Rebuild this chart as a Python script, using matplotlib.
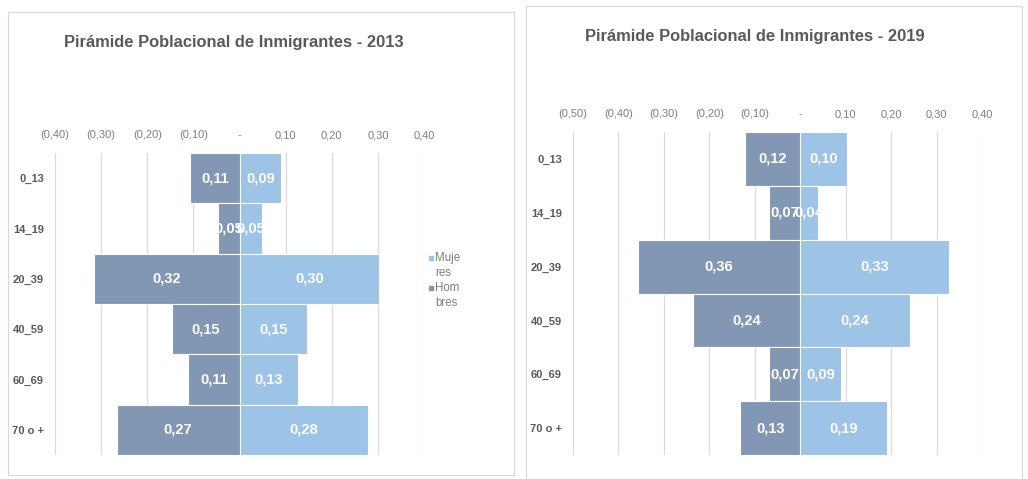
import matplotlib
matplotlib.use("Agg")
import matplotlib.pyplot as plt
from matplotlib.patches import Rectangle
from matplotlib.ticker import FuncFormatter
import numpy as np

plt.rcParams['font.family'] = ['Liberation Sans', 'DejaVu Sans']

grupos = ['0_13', '14_19', '20_39', '40_59', '60_69', '70 o +']

hombres_2013 = [0.107, 0.046, 0.316, 0.146, 0.111, 0.266]
mujeres_2013 = [0.090, 0.048, 0.303, 0.146, 0.126, 0.279]

hombres_2019 = [0.122, 0.069, 0.358, 0.236, 0.069, 0.132]
mujeres_2019 = [0.102, 0.039, 0.328, 0.242, 0.090, 0.191]

C_HOM = '#8297b3'
C_MUJ = '#9dc3e6'
C_GRID = '#d9d9d9'
C_TXT = '#595959'


def fmt_tick(v, pos=None):
    if abs(v) < 1e-9:
        return '-'
    s = '{:.2f}'.format(abs(v)).replace('.', ',')
    return '(' + s + ')' if v < 0 else s


def piramide(ax, hom, muj, xmin, xmax):
    y = np.arange(len(grupos))
    ax.barh(y, [-h for h in hom], height=1.0, color=C_HOM,
            edgecolor='white', linewidth=0.8, zorder=3)
    ax.barh(y, muj, height=1.0, color=C_MUJ,
            edgecolor='white', linewidth=0.8, zorder=3)
    for i in range(len(grupos)):
        # etiquetas centradas en cada mitad de la barra
        ax.text(-hom[i] / 2, i, '{:.2f}'.format(hom[i]).replace('.', ','),
                ha='center', va='center', color='white', fontsize=10.5,
                fontweight='bold', zorder=4)
        ax.text(muj[i] / 2, i, '{:.2f}'.format(muj[i]).replace('.', ','),
                ha='center', va='center', color='white', fontsize=10.5,
                fontweight='bold', zorder=4)
    ax.set_xlim(xmin, xmax)
    ax.set_ylim(len(grupos) - 0.5, -0.5)
    ax.set_xticks(np.round(np.arange(xmin, xmax + 0.001, 0.1), 2))
    ax.xaxis.set_major_formatter(FuncFormatter(fmt_tick))
    ax.xaxis.tick_top()
    ax.set_yticks(y)
    ax.set_yticklabels(grupos, fontweight='bold', color=C_TXT, fontsize=8)
    ax.tick_params(axis='x', length=0, pad=9, labelsize=8, labelcolor='#7f7f7f')
    ax.tick_params(axis='y', length=0, pad=8)
    ax.grid(axis='x', color=C_GRID, linewidth=0.9, zorder=0)
    for s in ax.spines.values():
        s.set_visible(False)


W, H = 1028, 479
fig = plt.figure(figsize=(W / 100, H / 100), dpi=100)

# bordes de los dos paneles
fig.patches.append(Rectangle((8 / W, 1 - 475 / H), 506 / W, 463 / H,
                             transform=fig.transFigure, fill=False,
                             edgecolor=C_GRID, linewidth=0.9))
fig.patches.append(Rectangle((526 / W, -0.01), 496 / W, 1 - 6 / H + 0.01,
                             transform=fig.transFigure, fill=False,
                             edgecolor=C_GRID, linewidth=0.9))

ax1 = fig.add_axes([55 / W, 1 - 455 / H, 369 / W, 302 / H])
piramide(ax1, hombres_2013, mujeres_2013, -0.4, 0.4)
fig.text(234 / W, 1 - 42 / H, 'Pirámide Poblacional de Inmigrantes - 2013',
         ha='center', va='center', fontsize=11.9, fontweight='bold', color=C_TXT)

ax2 = fig.add_axes([573 / W, 1 - 455 / H, 409 / W, 323 / H])
piramide(ax2, hombres_2019, mujeres_2019, -0.5, 0.4)
fig.text(755 / W, 1 - 36 / H, 'Pirámide Poblacional de Inmigrantes - 2019',
         ha='center', va='center', fontsize=11.9, fontweight='bold', color=C_TXT)

# leyenda del grafico 2013
for lab, col, yy in [('Muje\nres', C_MUJ, 258), ('Hom\nbres', C_HOM, 288)]:
    fig.patches.append(Rectangle((429 / W, 1 - (yy + 2) / H), 4 / W, 4 / H,
                                 transform=fig.transFigure, color=col))
    fig.text(435 / W, 1 - (yy - 6) / H, lab, ha='left', va='top',
             fontsize=8.3, color='#7f7f7f', linespacing=1.3)

fig.savefig('out.png', dpi=100)
